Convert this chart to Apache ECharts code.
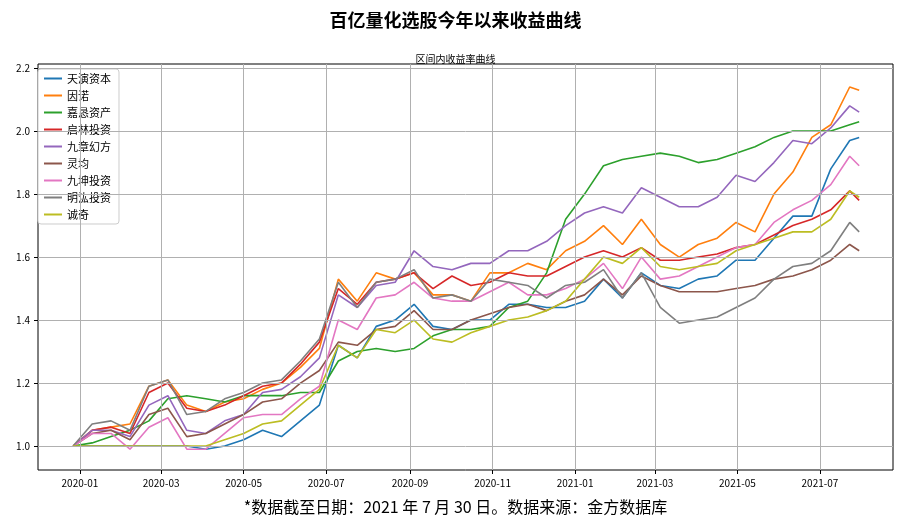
<!DOCTYPE html>
<html><head><meta charset="utf-8">
<script src="https://cdn.jsdelivr.net/npm/echarts@6/dist/echarts.min.js"></script>
<style>html,body{margin:0;padding:0;background:#fff}#c{width:911px;height:522px}</style>
</head><body><div id="c"></div>
<script>
// biweekly sample dates
const dates = ['2019-12-27','2020-01-10','2020-01-24','2020-02-07','2020-02-21','2020-03-06','2020-03-20','2020-04-03','2020-04-17','2020-05-01','2020-05-15','2020-05-29','2020-06-12','2020-06-26','2020-07-10','2020-07-24','2020-08-07','2020-08-21','2020-09-04','2020-09-18','2020-10-02','2020-10-16','2020-10-30','2020-11-13','2020-11-27','2020-12-11','2020-12-25','2021-01-08','2021-01-22','2021-02-05','2021-02-19','2021-03-05','2021-03-19','2021-04-02','2021-04-16','2021-04-30','2021-05-14','2021-05-28','2021-06-11','2021-06-25','2021-07-09','2021-07-23','2021-07-30'];

const tianyan = [1.0,1.0,1.0,1.0,1.0,1.0,1.0,0.99,1.0,1.02,1.05,1.03,1.08,1.13,1.32,1.28,1.38,1.40,1.45,1.38,1.37,1.40,1.40,1.45,1.45,1.44,1.44,1.46,1.53,1.47,1.55,1.51,1.50,1.53,1.54,1.59,1.59,1.66,1.73,1.73,1.88,1.97,1.98];
const yinnuo = [1.0,1.05,1.06,1.07,1.19,1.21,1.13,1.11,1.14,1.15,1.18,1.20,1.25,1.31,1.53,1.46,1.55,1.53,1.55,1.48,1.48,1.46,1.55,1.55,1.58,1.56,1.62,1.65,1.70,1.64,1.72,1.64,1.60,1.64,1.66,1.71,1.68,1.80,1.87,1.98,2.02,2.14,2.13];
const jiaken = [1.0,1.01,1.03,1.05,1.08,1.15,1.16,1.15,1.14,1.16,1.16,1.16,1.17,1.17,1.27,1.30,1.31,1.30,1.31,1.35,1.37,1.37,1.38,1.44,1.46,1.55,1.72,1.80,1.89,1.91,1.92,1.93,1.92,1.90,1.91,1.93,1.95,1.98,2.00,2.00,2.00,2.02,2.03];
const qilin = [1.0,1.05,1.06,1.04,1.17,1.20,1.12,1.11,1.13,1.16,1.19,1.20,1.26,1.33,1.50,1.45,1.52,1.53,1.55,1.50,1.54,1.51,1.52,1.55,1.54,1.54,1.57,1.60,1.62,1.60,1.63,1.59,1.59,1.60,1.61,1.63,1.64,1.67,1.70,1.72,1.75,1.81,1.78];
const jiuzhang = [1.0,1.05,1.05,1.03,1.13,1.16,1.05,1.04,1.08,1.10,1.17,1.18,1.22,1.28,1.48,1.44,1.51,1.52,1.62,1.57,1.56,1.58,1.58,1.62,1.62,1.65,1.70,1.74,1.76,1.74,1.82,1.79,1.76,1.76,1.79,1.86,1.84,1.90,1.97,1.96,2.01,2.08,2.06];
const lingjun = [1.0,1.04,1.05,1.02,1.10,1.12,1.03,1.04,1.07,1.10,1.14,1.15,1.20,1.24,1.33,1.32,1.37,1.38,1.43,1.37,1.37,1.40,1.42,1.44,1.45,1.43,1.46,1.48,1.53,1.48,1.54,1.51,1.49,1.49,1.49,1.50,1.51,1.53,1.54,1.56,1.59,1.64,1.62];
const jiukun = [1.0,1.04,1.04,0.99,1.06,1.09,0.99,0.99,1.04,1.09,1.10,1.10,1.15,1.19,1.40,1.37,1.47,1.48,1.52,1.47,1.46,1.46,1.49,1.52,1.48,1.48,1.50,1.53,1.58,1.50,1.60,1.53,1.54,1.57,1.60,1.63,1.64,1.71,1.75,1.78,1.83,1.92,1.89];
const minghong = [1.0,1.07,1.08,1.05,1.19,1.21,1.10,1.11,1.15,1.17,1.20,1.21,1.27,1.34,1.52,1.44,1.52,1.53,1.56,1.47,1.48,1.46,1.53,1.52,1.51,1.47,1.51,1.52,1.56,1.47,1.55,1.44,1.39,1.40,1.41,1.44,1.47,1.53,1.57,1.58,1.62,1.71,1.68];
const chengqi = [1.0,1.0,1.0,1.0,1.0,1.0,1.0,1.0,1.02,1.04,1.07,1.08,1.13,1.18,1.32,1.28,1.37,1.36,1.40,1.34,1.33,1.36,1.38,1.40,1.41,1.43,1.46,1.53,1.60,1.58,1.63,1.57,1.56,1.57,1.58,1.62,1.64,1.66,1.68,1.68,1.72,1.81,1.79];

const names = ['天演资本','因诺','嘉恳资产','启林投资','九章幻方','灵均','九坤投资','明汯投资','诚奇'];
const values = [tianyan,yinnuo,jiaken,qilin,jiuzhang,lingjun,jiukun,minghong,chengqi];
const colors = ['#1f77b4','#ff7f0e','#2ca02c','#d62728','#9467bd','#8c564b','#e377c2','#7f7f7f','#bcbd22'];
const yTicks = [1.0,1.2,1.4,1.6,1.8,2.0,2.2];
const xTicks = ['2020-01','2020-03','2020-05','2020-07','2020-09','2020-11','2021-01','2021-03','2021-05','2021-07'];

const ts = s => new Date(s + (s.length === 7 ? '-01' : '') + 'T00:00:00Z').getTime();
const xTickVals = xTicks.map(ts);
const font = '"Noto Sans CJK SC","DejaVu Sans",sans-serif';

const series = names.map((n, i) => ({
  name: n, type: 'line', symbol: 'none', lineStyle: {width: 1.6, color: colors[i]}, itemStyle: {color: colors[i]},
  data: dates.map((d, j) => [ts(d), values[i][j]]), z: 3
}));
series.push({
  type: 'line', data: [], silent: true, z: 1,
  markLine: {silent: true, symbol: 'none', label: {show: false}, lineStyle: {color: '#b0b0b0', type: 'solid', width: 1},
    data: yTicks.map(v => ({yAxis: v})).concat(xTickVals.map(v => ({xAxis: v})))}
});

const chart = echarts.init(document.getElementById('c'));
chart.setOption({
  animation: false,
  title: [
    {text: '百亿量化选股今年以来收益曲线', left: 'center', top: 6, textStyle: {fontFamily: font, fontSize: 18, fontWeight: 'bold', color: '#000'}},
    {text: '区间内收益率曲线', left: 'center', top: 49, textStyle: {fontFamily: font, fontSize: 10, fontWeight: 'normal', color: '#000'}},
    {text: '*数据截至日期：2021 年 7 月 30 日。数据来源：金方数据库', left: 'center', top: 494, textStyle: {fontFamily: font, fontSize: 16, fontWeight: 'normal', color: '#000'}}
  ],
  legend: {
    orient: 'vertical', left: 38, top: 69, itemWidth: 18, itemHeight: 2, itemGap: 6,
    icon: 'rect', backgroundColor: '#fff', borderColor: '#ccc', borderWidth: 1, borderRadius: 3, padding: [4, 8, 4, 6],
    textStyle: {fontFamily: font, fontSize: 11, color: '#000'}, data: names
  },
  grid: {left: 38, right: 18, top: 64, bottom: 52, show: true, borderColor: '#000', borderWidth: 1},
  xAxis: {
    type: 'value', min: ts('2019-12-01'), max: ts('2021-08-24'),
    splitLine: {show: false},
    axisLine: {show: false},
    axisTick: {show: true, customValues: xTickVals, length: 4, lineStyle: {color: '#000'}},
    axisLabel: {customValues: xTickVals, fontFamily: font, fontSize: 10, color: '#000',
      formatter: v => { const d = new Date(v); return d.getUTCFullYear() + '-' + String(d.getUTCMonth() + 1).padStart(2, '0'); }}
  },
  yAxis: {
    type: 'value', min: 0.924, max: 2.213,
    splitLine: {show: false},
    axisLine: {show: false},
    axisTick: {show: true, customValues: yTicks, length: 4, lineStyle: {color: '#000'}},
    axisLabel: {customValues: yTicks, fontFamily: font, fontSize: 10, color: '#000', formatter: v => v.toFixed(1)}
  },
  series: series
});
</script></body></html>
